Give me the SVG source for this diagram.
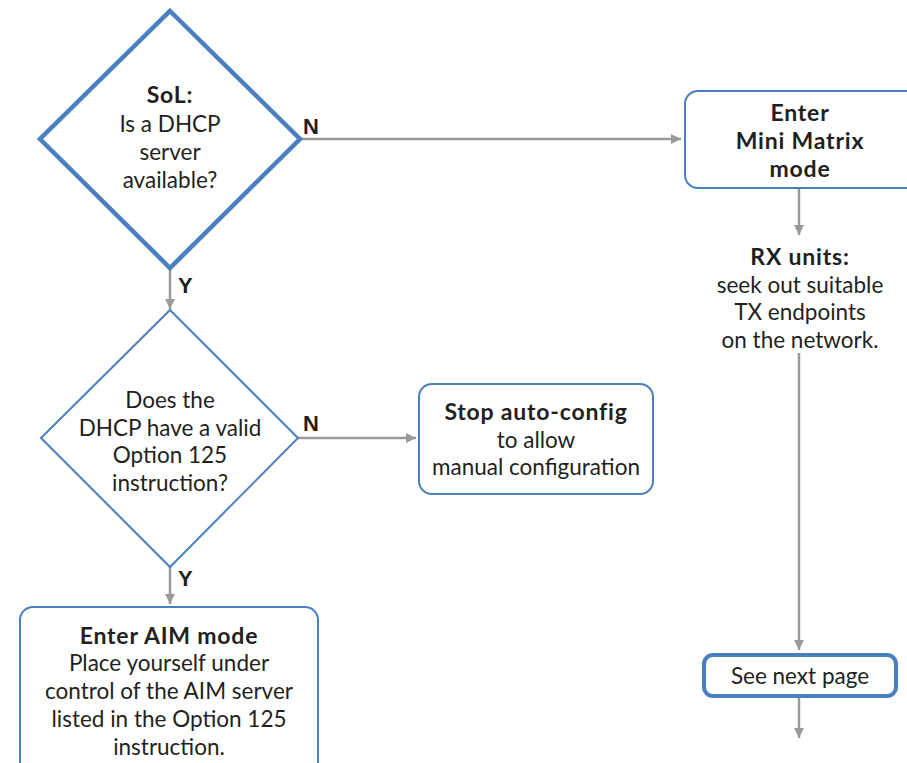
<svg xmlns="http://www.w3.org/2000/svg" width="907" height="763" viewBox="0 0 907 763">
<style>
text{font-family:Lato,"Open Sans","Liberation Sans",sans-serif;font-size:22.5px;fill:#231f20;text-anchor:middle}
.b{font-weight:bold;font-size:23px;letter-spacing:0.8px}
.lbl{font-family:"Liberation Sans",Arial,sans-serif;font-weight:bold;font-size:22px;text-anchor:start;letter-spacing:0}
.blue{fill:#fff;stroke:#4a7fc0}
.con{stroke:#9a9a9a;stroke-width:2.5;fill:none}
</style>
<defs>
<marker id="ah" viewBox="0 0 10 10" refX="10" refY="5" markerWidth="10" markerHeight="10" markerUnits="userSpaceOnUse" orient="auto">
<path d="M0,0 L10,5 L0,10 z" fill="#9a9a9a"/>
</marker>
</defs>
<rect width="907" height="763" fill="#fff"/>
<g id="connectors">
<line class="con" x1="170" y1="268" x2="170" y2="309" marker-end="url(#ah)"/>
<line class="con" x1="300" y1="139" x2="681" y2="139" marker-end="url(#ah)"/>
<line class="con" x1="298" y1="438" x2="416" y2="438" marker-end="url(#ah)"/>
<line class="con" x1="170" y1="567" x2="170" y2="604" marker-end="url(#ah)"/>
<line class="con" x1="799" y1="188" x2="799" y2="235" marker-end="url(#ah)"/>
<line class="con" x1="799" y1="353" x2="799" y2="650" marker-end="url(#ah)"/>
<line class="con" x1="799" y1="697" x2="799" y2="738" marker-end="url(#ah)"/>
<text class="lbl" x="178" y="293">Y</text>
<text class="lbl" x="303" y="134">N</text>
<text class="lbl" x="303" y="431">N</text>
<text class="lbl" x="178" y="586">Y</text>
</g>
<g id="d1">
<polygon class="blue" stroke-width="4.5" points="170,11 300,139 170,268 40,139"/>
<text class="b" x="170" y="103">SoL:</text>
<text x="170" y="132">Is a DHCP</text>
<text x="170" y="160">server</text>
<text x="170" y="188">available?</text>
</g>
<g id="d2">
<polygon class="blue" stroke-width="2" points="170,310 298,438 170,567 41,438"/>
<text x="170" y="408">Does the</text>
<text x="170" y="436">DHCP have a valid</text>
<text x="170" y="463">Option 125</text>
<text x="170" y="491">instruction?</text>
</g>
<g id="mini">
<rect class="blue" stroke-width="2" x="685" y="91" width="236" height="97" rx="13"/>
<text class="b" x="800" y="121">Enter</text>
<text class="b" x="800" y="149">Mini Matrix</text>
<text class="b" x="800" y="177">mode</text>
</g>
<g id="rx">
<text class="b" x="800" y="265">RX units:</text>
<text x="800" y="293">seek out suitable</text>
<text x="800" y="320">TX endpoints</text>
<text x="800" y="348">on the network.</text>
</g>
<g id="stop">
<rect class="blue" stroke-width="2" x="419" y="384" width="234" height="110" rx="13"/>
<text class="b" x="536" y="420">Stop auto-config</text>
<text x="536" y="448">to allow</text>
<text x="536" y="475">manual configuration</text>
</g>
<g id="aim">
<rect class="blue" stroke-width="2" x="20" y="607" width="298" height="170" rx="13"/>
<text class="b" x="169" y="644">Enter AIM mode</text>
<text x="169" y="671">Place yourself under</text>
<text x="169" y="699">control of the AIM server</text>
<text x="169" y="727">listed in the Option 125</text>
<text x="169" y="755">instruction.</text>
</g>
<g id="next">
<rect class="blue" stroke-width="4" x="704" y="655" width="192" height="41" rx="9"/>
<text x="800" y="684">See next page</text>
</g>
</svg>
